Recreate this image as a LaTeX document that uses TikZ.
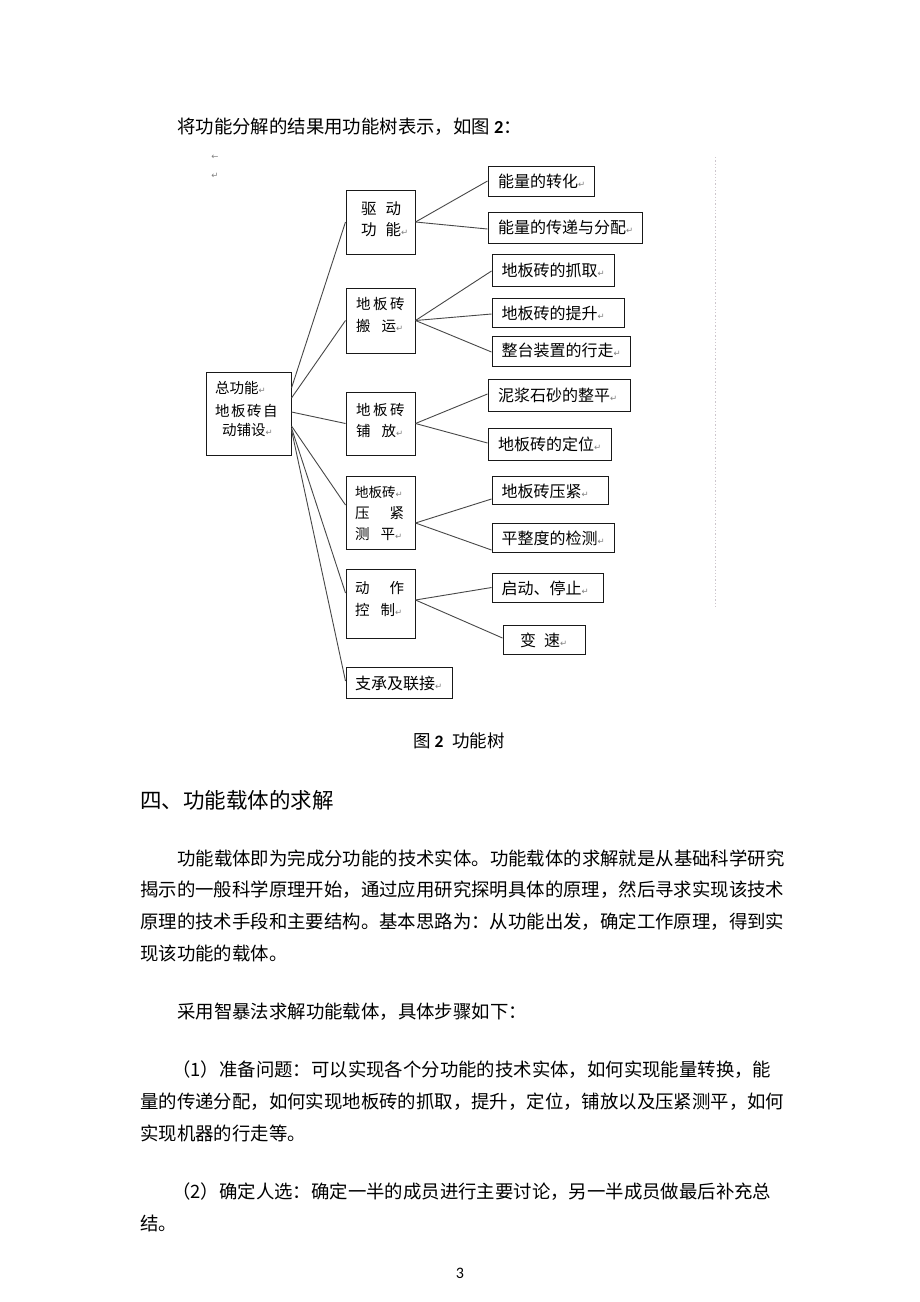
\documentclass[tikz,border=0pt]{standalone}
\usepackage{fontspec}
\usetikzlibrary{calc}
\setmainfont{Noto Sans CJK SC}
\newfontfamily\symf{DejaVu Sans}
\newfontfamily\latf{Carlito}
\XeTeXlinebreaklocale "zh"
\XeTeXlinebreakskip=0pt plus 2pt
\newcommand\pmark{{\symf\fontsize{8.5}{8.5}\selectfont\color{black!50}↵}}
\newcommand\mkbox[5]{\node[box, minimum width={(#4-#2)*1pt}, minimum height={(#5-#3)*1pt}] (#1) at ({(#2+#4)/2},{(#3+#5)/2}) {};}
\newcommand\jline[4]{\node[body, anchor=west] (#1) at (#2) {\hbox to #3pt{#4}};}
\begin{document}
\begin{tikzpicture}[x=1pt,y=-1pt,
  box/.style={draw=black!90, line width=1pt, inner sep=0pt, rectangle},
  conn/.style={draw=black!72, line width=0.9pt},
  leaf/.style={inner sep=0pt, anchor=west, font=\fontsize{16}{16}\selectfont},
  mid/.style={inner sep=0pt, anchor=west, font=\fontsize{14.5}{14.5}\selectfont},
  body/.style={inner sep=0pt, font=\fontsize{18.4}{18.4}\selectfont},
  mk/.style={inner sep=0pt, text=black!50, font=\symf\fontsize{8.5}{8.5}\selectfont}]
\useasboundingbox (0,0) rectangle (920,1302);
\fill[white] (0,0) rectangle (920,1302);

% top line
\node[body, anchor=west] (intro) at (177,127) {将功能分解的结果用功能树表示，如图 {\latf\bfseries 2}：};
\node[mk] (mk1) at (215,157) {←};
\node[mk] (mk2) at (215,176) {↵};
\draw[dotted, line width=1.3pt, draw={rgb,255:red,205;green,198;blue,205}] (715.5,157) coordinate (dl1) -- (715.5,606) coordinate (dl2);

% boxes
\mkbox{root}{206}{372}{291}{455}
\mkbox{m1}{346}{190}{415}{254}
\mkbox{m2}{346}{288}{415}{353}
\mkbox{m3}{346}{392}{415}{455}
\mkbox{m4}{346}{476}{415}{549}
\mkbox{m5}{346}{569}{415}{638}
\mkbox{m6}{346}{667}{452}{698}
\mkbox{l1}{488}{166}{594}{196}
\mkbox{l2}{488}{212}{642}{243}
\mkbox{l3}{492}{254}{614}{286}
\mkbox{l4}{492}{298}{624}{327}
\mkbox{l5}{492}{336}{630}{366}
\mkbox{l6}{488}{379}{630}{411}
\mkbox{l7}{488}{428}{611}{460}
\mkbox{l8}{492}{476}{608}{504}
\mkbox{l9}{492}{523}{614}{552}
\mkbox{l10}{492}{573}{603}{602}
\mkbox{l11}{503}{625}{585}{654}

% texts of boxes
\node[mid] (r1) at (215,387.5) {总功能\pmark};
\node[mid] (r2) at (215,411.5) {地\hspace{1.5pt}板\hspace{1.5pt}砖\hspace{1.5pt}自};
\node[mid] (r3) at (222,430) {动铺设\pmark};

\node[mid, font=\fontsize{15.5}{15.5}\selectfont] (t1a) at (361,209) {驱\hspace{9pt}动};
\node[mid, font=\fontsize{15.5}{15.5}\selectfont] (t1b) at (361,230) {功\hspace{9pt}能\pmark};
\node[mid] (t2a) at (356,304) {地\hspace{2.5pt}板\hspace{2.5pt}砖};
\node[mid] (t2b) at (356,326) {搬\hspace{11pt}运\pmark};
\node[mid] (t3a) at (356,410) {地\hspace{2.5pt}板\hspace{2.5pt}砖};
\node[mid] (t3b) at (356,431) {铺\hspace{11pt}放\pmark};
\node[mid, font=\fontsize{13.5}{13.5}\selectfont] (t4a) at (355,492.5) {地板砖\pmark};
\node[mid] (t4b) at (355,513) {压\hspace{20pt}紧};
\node[mid] (t4c) at (355,534) {测\hspace{11pt}平\pmark};
\node[mid] (t5a) at (355,588) {动\hspace{20pt}作};
\node[mid] (t5b) at (355,610) {控\hspace{11pt}制\pmark};
\node[leaf] (t6) at (355,683) {支承及联接\pmark};

\node[leaf] (s1) at (498,181) {能量的转化\pmark};
\node[leaf] (s2) at (498,227.5) {能量的传递与分配\pmark};
\node[leaf] (s3) at (501.5,270) {地板砖的抓取\pmark};
\node[leaf] (s4) at (501.5,313) {地板砖的提升\pmark};
\node[leaf] (s5) at (501.5,350.5) {整台装置的行走\pmark};
\node[leaf] (s6) at (498,395) {泥浆石砂的整平\pmark};
\node[leaf] (s7) at (498,444) {地板砖的定位\pmark};
\node[leaf] (s8) at (501.5,491) {地板砖压紧\pmark};
\node[leaf] (s9) at (501.5,538.5) {平整度的检测\pmark};
\node[leaf] (s10) at (501.5,588) {启动、停止\pmark};
\node[leaf] (s11) at (520,640) {变\hspace{8pt}速\pmark};

% connectors root -> mid
\draw[conn] ($(root.east)+(0,-25.5)$) -- (m1.west);
\draw[conn] ($(root.east)+(0,-15.5)$) -- (m2.west);
\draw[conn] ($(root.east)+(0,-1.5)$) -- (m3.west);
\draw[conn] ($(root.east)+(0,12.5)$) -- ($(m4.west)+(0,-7.5)$);
\draw[conn] ($(root.east)+(0,14.5)$) -- ($(m5.west)+(0,-10.5)$);
\draw[conn] ($(root.east)+(0,16.5)$) -- ($(m6.west)+(0,-1.5)$);
% mid -> leaves
\draw[conn] (m1.east) -- (l1.west);
\draw[conn] (m1.east) -- ($(l2.west)+(0,1.5)$);
\draw[conn] (m2.east) -- ($(l3.west)+(0,1)$);
\draw[conn] (m2.east) -- ($(l4.west)+(0,1.5)$);
\draw[conn] (m2.east) -- ($(l5.west)+(0,1)$);
\draw[conn] (m3.east) -- ($(l6.west)+(0,-1)$);
\draw[conn] (m3.east) -- ($(l7.west)+(0,-1)$);
\draw[conn] ($(m4.east)+(0,10.5)$) -- ($(l8.west)+(0,9)$);
\draw[conn] ($(m4.east)+(0,10.5)$) -- ($(l9.west)+(0,12.5)$);
\draw[conn] ($(m5.east)+(0,-3.5)$) -- (l10.west);
\draw[conn] ($(m5.east)+(0,-3.5)$) -- ($(l11.west)+(0,-1.5)$);

% caption
\node[inner sep=0pt, anchor=west, font=\fontsize{17.5}{17.5}\selectfont] (cap) at (413,741) {图 {\latf\bfseries 2}\hspace{9pt}功能树};

% heading
\node[inner sep=0pt, anchor=west, font=\fontsize{21.5}{21.5}\selectfont] (head) at (140,800) {四、功能载体的求解};

% body paragraphs
\jline{p1a}{177,858}{608}{功能载体即为完成分功能的技术实体。功能载体的求解就是从基础科学研究}
\jline{p1b}{140,890}{645}{揭示的一般科学原理开始，通过应用研究探明具体的原理，然后寻求实现该技术}
\jline{p1c}{140,922}{645}{原理的技术手段和主要结构。基本思路为：从功能出发，确定工作原理，得到实}
\node[body, anchor=west] (p1d) at (140,953) {现该功能的载体。};
\node[body, anchor=west] (p2) at (177,1012) {采用智暴法求解功能载体，具体步骤如下：};
\jline{p3a}{172,1070}{613}{（1）准备问题：可以实现各个分功能的技术实体，如何实现能量转换，能}
\jline{p3b}{140,1102}{645}{量的传递分配，如何实现地板砖的抓取，提升，定位，铺放以及压紧测平，如何}
\node[body, anchor=west] (p3c) at (140,1133) {实现机器的行走等。};
\jline{p4a}{172,1192}{613}{（2）确定人选：确定一半的成员进行主要讨论，另一半成员做最后补充总}
\node[body, anchor=west] (p4b) at (140,1223) {结。};

\node[inner sep=0pt, font=\latf\fontsize{16}{16}\selectfont] (pg) at (460,1273) {3};
\end{tikzpicture}
\end{document}
